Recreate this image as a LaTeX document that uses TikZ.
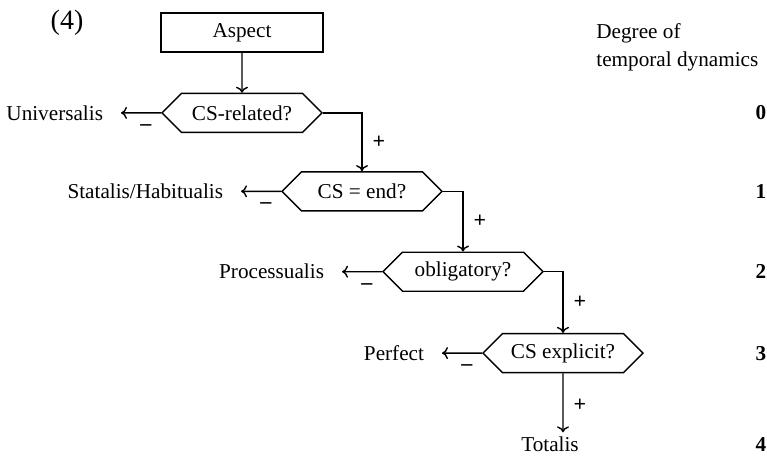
\documentclass[tikz,border=0pt]{standalone}
\usepackage{fontspec}
\setmainfont{Liberation Serif}
\usetikzlibrary{shapes.symbols,arrows.meta}
\usetikzlibrary{positioning}

\begin{document}
\begin{tikzpicture}[x=0.5pt, y=-0.5pt, node distance=20pt,
			font=\fontsize{10.6}{13}\selectfont,
			box/.style={
					rectangle,
					draw,
					line width=0.7pt,
					minimum width=81pt,
					minimum height=19.5pt,
					inner sep=0pt
				},
			question/.style={
					signal,
					signal to=west and east,
					signal pointer angle=90,
					draw,
					line width=0.7pt,
					minimum width=80pt,
					minimum height=19.5pt,
					inner sep=0pt
				},
			outcome/.style={inner sep=0pt, outer xsep=9pt},
			degree/.style={inner sep=0pt, font=\fontsize{10.6}{13}\selectfont\bfseries},
			sign/.style={inner sep=0pt, font=\fontsize{11}{13}\selectfont\bfseries},
			line/.style={draw, line width=0.7pt, -{To[length=3pt, width=6pt]}}
		]
		\useasboundingbox (0,0) rectangle (767,457);
		% Place nodes
		\node (number) at (67,23) {\fontsize{14}{16}\selectfont (4)};
		\node [box] (aspect) at (242,32.5) {Aspect};
		\node [question, below=20pt of aspect] (related) {CS-related?};
		\node [question, below=19pt of related, xshift=60pt] (end) {CS = end?};
		\node [question, below=20pt of end, xshift=50.5pt] (oblig) {obligatory?};
		\node [question, below=20.5pt of oblig, xshift=50pt] (explicit) {CS explicit?};
		\node [outcome, left=20pt of related] (univ) {Universalis};
		\node [outcome, left=20pt of end] (stat) {Statalis/Habitualis};
		\node [outcome, left=20pt of oblig] (proc) {Processualis};
		\node [outcome, left=20pt of explicit] (perf) {Perfect};
		\node [outcome, below=31.5pt of explicit, xshift=-6.5pt] (totalis) {Totalis};
		% Degree column
		\node [anchor=north west, inner sep=0pt, align=left, font=\fontsize{10.6}{14}\selectfont] (heading) at (596,23) {Degree of\\temporal dynamics};
		\coordinate (dcol) at (761,0);
		\node [degree] (d0) at (related -| dcol) {0};
		\node [degree] (d1) at (end -| dcol) {1};
		\node [degree] (d2) at (oblig -| dcol) {2};
		\node [degree] (d3) at (explicit -| dcol) {3};
		\node [degree] (d4) at (totalis -| dcol) {4};
		% Draw edges
		\path [line] (aspect) -- (related);
		\path [line] (related) -| node [sign, pos=0.75, right=5pt] {+} (end);
		\path [line] (end) -| node [sign, pos=0.75, right=5pt] {+} (oblig);
		\path [line] (oblig) -| node [sign, pos=0.75, right=5pt] {+} (explicit);
		\path [line, shorten >=2pt] (explicit) -- node [sign, right=5pt] {+} (explicit |- totalis.north);
		\path [line] (related) -- node [sign, pos=0.38, below=5.5pt] {--} (univ);
		\path [line] (end) -- node [sign, pos=0.38, below=5.5pt] {--} (stat);
		\path [line] (oblig) -- node [sign, pos=0.38, below=5.5pt] {--} (proc);
		\path [line] (explicit) -- node [sign, pos=0.38, below=5.5pt] {--} (perf);
	\end{tikzpicture}
\end{document}
